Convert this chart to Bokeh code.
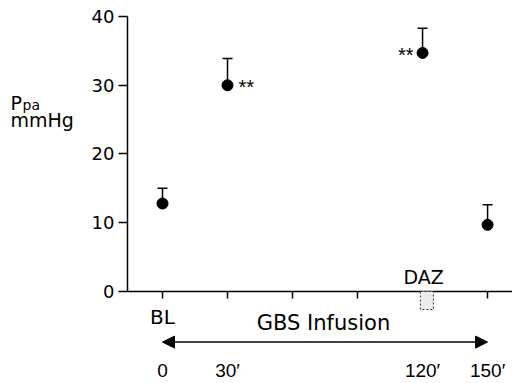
from bokeh.plotting import figure
from bokeh.layouts import row
from bokeh.models import (ColumnDataSource, Range1d, FixedTicker, Whisker, TeeHead,
                          Arrow, NormalHead, Label, LabelSet, BoxAnnotation)
from bokeh.core.properties import value
from bokeh.embed import file_html
from bokeh.resources import INLINE

# ---- data ----
times = [0, 30, 120, 150]                 # minutes
ppa_mean = [12.8, 30.0, 34.7, 9.7]        # mmHg
ppa_upper = [15.0, 33.9, 38.3, 12.6]      # mean + SE
signif = ["", "**", "**", ""]
x_ticks = [0, 30, 60, 90, 120, 150]
baseline_label = "BL"
time_labels = ["0", "30\u2032", "120\u2032", "150\u2032"]
y_ticks = [0, 10, 20, 30, 40]
daz_start, daz_end = 119, 125             # DAZ administration window (min)

FONT = "DejaVu Sans"
FONT2 = "Liberation Sans"
H = 381

# ---------- left panel: axis title ----------
lt = figure(width=88, height=H, output_backend="svg", toolbar_location=None,
            x_range=Range1d(0, 88), y_range=Range1d(H, 0),
            x_axis_location=None, y_axis_location=None,
            min_border=0, min_border_left=0, min_border_right=0,
            min_border_top=0, min_border_bottom=0)
lt.outline_line_color = None
lt.xgrid.visible = False
lt.ygrid.visible = False
lt.text(x=[10], y=[93], text=["P"], text_font=value(FONT), text_font_size="19px",
        text_baseline="alphabetic", text_align="left", text_color="black")
lt.text(x=[22], y=[95], text=["pa"], text_font=value(FONT), text_font_size="14px",
        text_baseline="alphabetic", text_align="left", text_color="black")
lt.text(x=[10], y=[111], text=["mmHg"], text_font=value(FONT), text_font_size="19px",
        text_baseline="alphabetic", text_align="left", text_color="black")

# ---------- main plot ----------
p = figure(width=424, height=H, output_backend="svg", toolbar_location=None,
           x_range=Range1d(-16.15, 161.5), y_range=Range1d(-13.09, 40.58),
           x_axis_location="above",
           min_border_left=39, min_border_right=0, min_border_top=12,
           min_border_bottom=0)
p.outline_line_color = None
p.xgrid.visible = False
p.ygrid.visible = False

# y axis
p.yaxis.ticker = FixedTicker(ticks=y_ticks)
p.yaxis.bounds = (0, 40)
p.yaxis.minor_tick_line_color = None
p.yaxis.major_tick_in = 0
p.yaxis.major_tick_out = 9
p.yaxis.axis_line_width = 1.5
p.yaxis.major_tick_line_width = 1.5
p.yaxis.axis_line_color = "black"
p.yaxis.major_tick_line_color = "black"
p.yaxis.major_label_text_font = FONT
p.yaxis.major_label_text_font_size = "18px"
p.yaxis.major_label_text_color = "black"
p.yaxis.major_label_standoff = 4

# x axis drawn at y = 0, ticks pointing down
xa = p.xaxis[0]
xa.fixed_location = 0
xa.ticker = FixedTicker(ticks=x_ticks)
xa.minor_tick_line_color = None
xa.major_tick_in = 7
xa.major_tick_out = 0
xa.axis_line_width = 1.5
xa.major_tick_line_width = 1.5
xa.axis_line_color = "black"
xa.major_tick_line_color = "black"
xa.major_label_text_font_size = "1px"
xa.major_label_text_color = None
xa.major_label_standoff = 0

src = ColumnDataSource(dict(t=times, m=ppa_mean, u=ppa_upper, s=signif))

# error bars (upper only)
p.add_layout(Whisker(source=src, base="t", lower="m", upper="u", dimension="height",
                     line_color="black", line_width=1.5,
                     upper_head=TeeHead(size=10, line_color="black", line_width=1.5),
                     lower_head=None))

p.scatter("t", "m", source=src, size=11, color="black")

# significance markers
sig_right = ColumnDataSource(dict(t=[times[1]], m=[ppa_mean[1]], s=[signif[1]]))
sig_left = ColumnDataSource(dict(t=[times[2]], m=[ppa_mean[2]], s=[signif[2]]))
p.text("t", "m", text="s", source=sig_right, x_offset=11, y_offset=2,
       text_align="left", text_baseline="alphabetic",
       text_font=value(FONT2), text_font_size="20px", text_color="black")
p.text("t", "m", text="s", source=sig_left, x_offset=-9, y_offset=2,
       text_align="right", text_baseline="alphabetic",
       text_font=value(FONT2), text_font_size="20px", text_color="black")

# BL under first tick
p.text(x=[x_ticks[0]], y=[-3.64], text=[baseline_label], text_align="center",
       text_baseline="alphabetic", text_font=value(FONT), text_font_size="20px",
       text_color="black")

# DAZ label and box
p.add_layout(Label(x=120.5, y=2.18, text="DAZ", text_align="center",
                   text_baseline="alphabetic", text_font=FONT,
                   text_font_size="19px", text_color="black"))
p.add_layout(BoxAnnotation(left=daz_start, right=daz_end, bottom=-2.62, top=0,
                           fill_color="#ececec", fill_alpha=1.0,
                           line_color="#333333", line_alpha=1.0, line_width=1,
                           line_dash="2 2"))

# infusion arrow & labels
p.add_layout(Arrow(x_start=times[0], y_start=-7.36, x_end=times[-1], y_end=-7.36,
                   line_color="black", line_width=1.5,
                   start=NormalHead(size=12, fill_color="black", line_color="black"),
                   end=NormalHead(size=12, fill_color="black", line_color="black")))
p.add_layout(Label(x=74.3, y=-4.51, text="GBS Infusion", text_align="center",
                   text_baseline="alphabetic", text_font=FONT,
                   text_font_size="21px", text_color="black"))

tl_src = ColumnDataSource(dict(t=times, y=[-12.5] * len(times), lab=time_labels))
p.add_layout(LabelSet(x="t", y="y", text="lab", source=tl_src, text_align="center",
                      text_baseline="alphabetic", text_font=value(FONT2),
                      text_font_size="19px", text_color="black"))

layout = row(lt, p)
open("out.html", "w").write(file_html(layout, INLINE))
